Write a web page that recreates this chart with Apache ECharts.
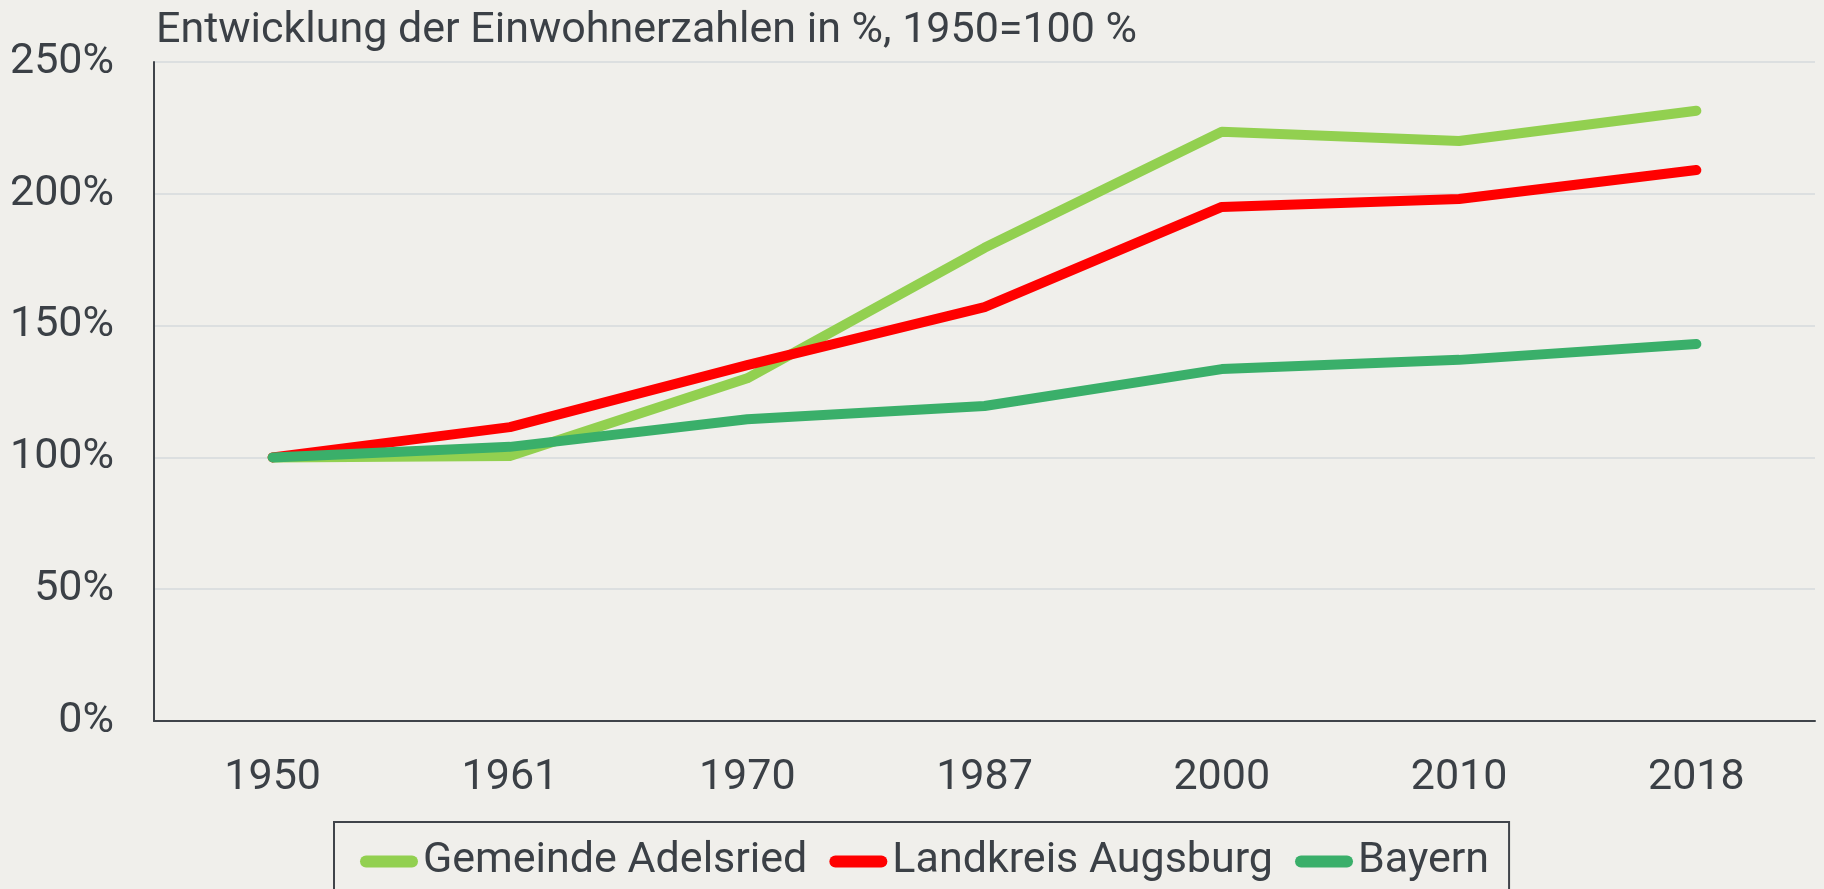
<!DOCTYPE html>
<html>
<head>
<meta charset="utf-8">
<script src="https://cdn.jsdelivr.net/npm/echarts@6/dist/echarts.min.js"></script>
<style>
  html, body { margin: 0; padding: 0; background: #f0efeb; }
  #chart { width: 1824px; height: 889px; }
</style>
</head>
<body>
<div id="chart"></div>
<script>
// Einwohnerentwicklung, 1950 = 100 %
var years = ['1950', '1961', '1970', '1987', '2000', '2010', '2018'];
var adelsried = [100, 100.5, 130, 179.5, 223.5, 220, 231.5];
var landkreis = [100, 111.5, 135, 157, 195, 198, 209];
var bayern = [100, 104, 114.5, 119.5, 133.5, 137, 143];
var yTicks = [0, 50, 100, 150, 200, 250];

var textColor = '#3b4046';
var capsule = 'path://M6,0 L52,0 A6,6 0 0 1 52,12 L6,12 A6,6 0 0 1 6,0 Z';

var myChart = echarts.init(document.getElementById('chart'));

function lineSeries(name, data, color) {
    return {
        name: name,
        type: 'line',
        data: data,
        showSymbol: false,
        symbol: 'none',
        lineStyle: { color: color, width: 10, cap: 'round', join: 'round' },
        itemStyle: { color: color }
    };
}

option = {
    backgroundColor: '#f0efeb',
    animation: false,
    textStyle: { fontFamily: 'Roboto' },
    title: {
        text: 'Entwicklung der Einwohnerzahlen in %, 1950=100 %',
        left: 151,
        top: 5,
        textStyle: {
            color: textColor,
            fontSize: 43,
            fontWeight: 'normal',
            fontFamily: 'Roboto'
        }
    },
    grid: { left: 154, right: 9, top: 62, bottom: 168 },
    legend: {
        left: 334,
        top: 822,
        padding: [18, 20, 40, 26],
        itemGap: 22,
        itemWidth: 58,
        itemHeight: 12,
        borderColor: '#40444a',
        borderWidth: 2,
        textStyle: { color: textColor, fontSize: 43, fontFamily: 'Roboto' },
        data: [
            { name: 'Gemeinde Adelsried', icon: capsule },
            { name: 'Landkreis Augsburg', icon: capsule },
            { name: 'Bayern', icon: capsule }
        ]
    },
    xAxis: {
        type: 'category',
        data: years,
        boundaryGap: true,
        axisLine: { lineStyle: { color: '#40444a', width: 2 } },
        axisTick: { show: false },
        axisLabel: { color: textColor, fontSize: 43, margin: 36, fontFamily: 'Roboto' }
    },
    yAxis: {
        type: 'value',
        min: 0,
        max: 250,
        interval: 50,
        axisLine: { show: true, lineStyle: { color: '#40444a', width: 2 } },
        axisTick: { show: false },
        splitLine: { lineStyle: { color: '#dcdfe0', width: 2 } },
        axisLabel: {
            color: textColor,
            fontSize: 43,
            margin: 40,
            fontFamily: 'Roboto',
            formatter: function (v) { return yTicks.indexOf(v) >= 0 ? v + '%' : ''; }
        }
    },
    series: [
        lineSeries('Gemeinde Adelsried', adelsried, '#92d050'),
        lineSeries('Landkreis Augsburg', landkreis, '#ff0000'),
        lineSeries('Bayern', bayern, '#3aaf6a')
    ]
};

myChart.setOption(option);
</script>
</body>
</html>
